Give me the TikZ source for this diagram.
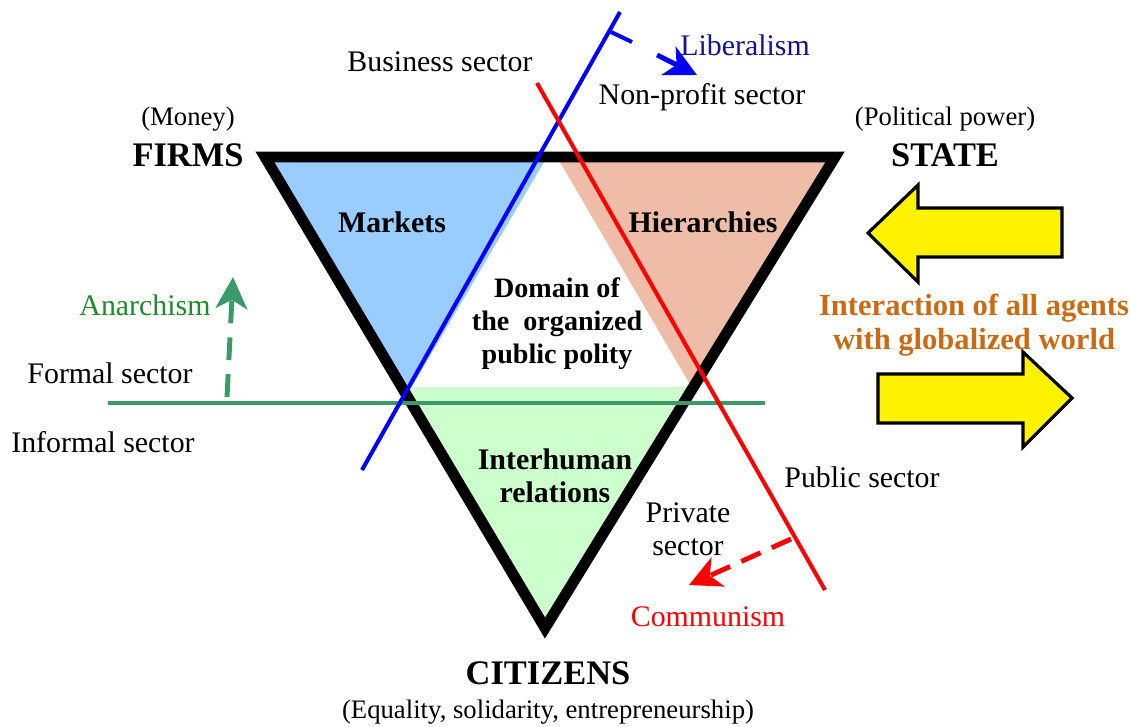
\documentclass[tikz,border=0pt]{standalone}
\usepackage{fontspec}
\setmainfont{Liberation Serif}
\usepackage{xcolor}
\usepackage{tikz}
\usetikzlibrary{
  positioning,
  arrows.meta
}
\definecolor{mktblue}{HTML}{99CCFF}
\definecolor{hiersalmon}{HTML}{EFBCA7}
\definecolor{humgreen}{HTML}{CCFFCC}
\definecolor{formgreen}{HTML}{3A9A68}
\definecolor{anagreen}{HTML}{1C8C2C}
\definecolor{libnavy}{HTML}{14148E}
\definecolor{globorange}{HTML}{CC6A12}

\begin{document}
\begin{tikzpicture}[
  txt/.style={font=\fontsize{8.5}{9.4}\selectfont,align=center,inner sep=0pt},
  small/.style={font=\fontsize{7.6}{9}\selectfont,inner sep=0pt},
  big/.style={font=\fontsize{9.8}{11}\selectfont\bfseries,inner sep=0pt},
  area/.style={font=\fontsize{8.5}{9.3}\selectfont\bfseries,align=center,inner sep=0pt},
  divide/.style={line width=1.15pt},
  push/.style={line width=1.4pt,-{Stealth[length=9pt,width=9pt,inset=2.5pt]}},
  globe/.style={draw=black,fill=yellow,line width=0.9pt,line join=miter}
]
  \useasboundingbox (0,0) rectangle (11.3,7.26);
  % 三角形の頂点
  \coordinate (firms) at (2.65,5.69);
  \coordinate (state) at (8.35,5.69);
  \coordinate (citizens) at (5.45,0.98);
  % 塗り分け
  \fill[mktblue] (firms) -- (5.47,5.69) -- (4.07,3.31) -- cycle;
  \fill[hiersalmon] (5.57,5.69) -- (state) -- (6.92,3.38) -- cycle;
  \fill[humgreen] (4.02,3.39) -- (6.93,3.39) -- (citizens) -- cycle;
  % 外枠
  \draw[line width=3.1pt,line join=miter] (firms) -- (state) -- (citizens) -- cycle;
  % 区切り線
  \coordinate (formL) at (1.08,3.23);
  \coordinate (formR) at (7.65,3.23);
  \coordinate (libB) at (3.62,2.56);
  \coordinate (libT) at (6.20,7.14);
  \coordinate (comT) at (5.37,6.43);
  \coordinate (comB) at (8.25,1.36);
  \draw[divide,formgreen] (formL) -- (formR); %フォーマル
  \draw[divide,blue] (libB) -- (libT); %リベラル
  \draw[divide,red] (comT) -- (comB); %公共
  % 矢印
  \coordinate (tickA) at (6.11,6.94);
  \coordinate (tickB) at (6.32,6.84);
  \coordinate (libA) at (6.57,6.71);
  \coordinate (libZ) at (6.97,6.51);
  \draw[divide,blue] (tickA) -- (tickB);
  \draw[push,blue] (libA) -- (libZ);
  \coordinate (comA) at (7.91,1.87);
  \coordinate (comZ) at (6.89,1.41);
  \draw[push,red,dash pattern=on 6pt off 3.5pt] (comA) -- (comZ);
  \coordinate (anaA) at (2.27,3.29);
  \coordinate (anaZ) at (2.33,4.49);
  \draw[push,formgreen,dash pattern=on 6.5pt off 4pt] (anaA) -- (anaZ);
  % 外部との相互作用
  \draw[globe] (8.68,4.93) -- (9.18,5.41) -- (9.18,5.18) -- (10.62,5.18)
    -- (10.62,4.69) -- (9.18,4.69) -- (9.18,4.44) -- cycle;
  \draw[globe] (10.72,3.28) -- (10.23,3.74) -- (10.23,3.52) -- (8.78,3.52)
    -- (8.78,3.03) -- (10.23,3.03) -- (10.23,2.79) -- cycle;
  % ラベル
  \node[big] (firmsLbl) at (1.88,5.71) {FIRMS};
  \node[small,above=0.11 of firmsLbl] (moneyLbl) {(Money)};
  \node[big] (stateLbl) at (9.45,5.71) {STATE};
  \node[small,above=0.11 of stateLbl] (powerLbl) {(Political power)};
  \node[big] (citizensLbl) at (5.48,0.53) {CITIZENS};
  \node[small] (equalLbl) at (5.48,0.14) {(Equality, solidarity, entrepreneurship)};
  \node[area] (marketsLbl) at (3.92,5.04) {Markets};
  \node[area] (hierLbl) at (7.03,5.04) {Hierarchies};
  \node[area,font=\fontsize{8}{9.4}\selectfont\bfseries] (domainLbl) at (5.57,4.02) {Domain of\\the~ organized\\public polity};
  \node[area] (humanLbl) at (5.55,2.50) {Interhuman\\relations};
  \node[txt] (bizLbl) at (4.40,6.64) {Business sector};
  \node[txt] (nonprofitLbl) at (7.02,6.29) {Non-profit sector};
  \node[txt,libnavy] (libLbl) at (7.45,6.81) {Liberalism};
  \node[txt,anagreen] (anaLbl) at (1.45,4.21) {Anarchism};
  \node[txt] (formalLbl) at (1.10,3.53) {Formal sector};
  \node[txt] (informalLbl) at (1.03,2.84) {Informal sector};
  \node[txt] (publicLbl) at (8.62,2.49) {Public sector};
  \node[txt] (privateLbl) at (6.88,1.97) {Private\\sector};
  \node[txt,red] (comLbl) at (7.08,1.09) {Communism};
  \node[area,font=\fontsize{8.7}{9.7}\selectfont\bfseries,globorange] (globLbl) at (9.74,4.01) {Interaction of all agents\\with globalized world};
\end{tikzpicture}
\end{document}
